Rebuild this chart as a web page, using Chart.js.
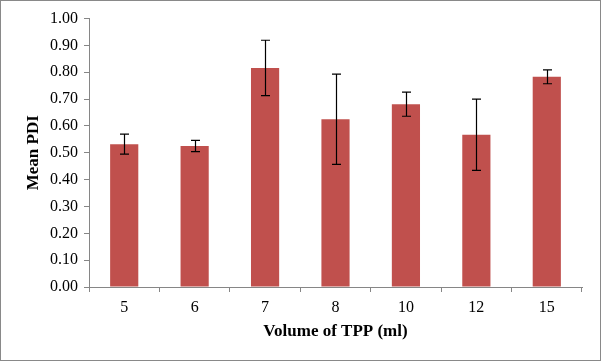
<!DOCTYPE html>
<html>
<head>
<meta charset="utf-8">
<script src="https://cdn.jsdelivr.net/npm/chart.js@4"></script>
<style>
  html, body { margin: 0; padding: 0; background: #fff; }
  #wrap { position: absolute; left: 0; top: 0; width: 601px; height: 361px;
          box-sizing: border-box; border: 1px solid #898989; background: #fff; }
</style>
</head>
<body>
<div id="wrap"><canvas id="pdiChart"></canvas></div>
<script>
// volume of TPP (ml) vs mean PDI, with error bars
const categories = ["5", "6", "7", "8", "10", "12", "15"];
const meanPDI = [0.532, 0.525, 0.816, 0.625, 0.681, 0.567, 0.783];
const errPDI = [0.037, 0.021, 0.103, 0.168, 0.045, 0.133, 0.026];

const ctx = document.getElementById("pdiChart").getContext("2d");

// draws the error bars from the data, using the chart's own scales
const errorBars = {
  id: "errorBars",
  afterDatasetsDraw(chart) {
    const c = chart.ctx;
    const x = chart.scales.x;
    const y = chart.scales.y;
    c.save();
    c.strokeStyle = "#000";
    c.lineWidth = 1.2;
    meanPDI.forEach((v, i) => {
      const px = Math.round(x.getPixelForValue(i)) + 0.5;
      const top = y.getPixelForValue(v + errPDI[i]);
      const bot = y.getPixelForValue(v - errPDI[i]);
      c.beginPath();
      c.moveTo(px, top); c.lineTo(px, bot);
      c.moveTo(px - 4.5, top); c.lineTo(px + 4.5, top);
      c.moveTo(px - 4.5, bot); c.lineTo(px + 4.5, bot);
      c.stroke();
    });
    c.restore();
  }
};

new Chart(ctx, {
  type: "bar",
  data: {
    labels: categories,
    datasets: [{
      label: "Mean PDI",
      data: meanPDI,
      backgroundColor: "#C0504D",
      borderWidth: 0,
      categoryPercentage: 1,
      barPercentage: 0.4
    }]
  },
  options: {
    responsive: true,
    maintainAspectRatio: false,
    animation: false,
    layout: { padding: { left: 18, right: 18, top: 17.5, bottom: 14 } },
    plugins: { legend: { display: false }, tooltip: { enabled: false } },
    scales: {
      x: {
        grid: { display: true, drawOnChartArea: false, drawTicks: true, tickLength: 5, color: "#868686", offset: true },
        border: { display: true, color: "#868686" },
        ticks: { color: "#000", font: { family: "Liberation Serif", size: 16 }, padding: 6 },
        title: { display: true, text: "Volume of TPP (ml)", color: "#000",
                 font: { family: "Liberation Serif", size: 17, weight: "bold" } },
        afterFit(scale) { scale.height = 59; }
      },
      y: {
        min: 0,
        max: 1,
        grid: { display: true, drawOnChartArea: false, drawTicks: true, tickLength: 5, color: "#868686" },
        border: { display: true, color: "#868686" },
        ticks: { stepSize: 0.1, color: "#000", font: { family: "Liberation Serif", size: 16 }, padding: 6,
                 callback: v => v.toFixed(2) },
        title: { display: true, text: "Mean PDI", color: "#000",
                 font: { family: "Liberation Serif", size: 17, weight: "bold" } },
        afterFit(scale) { scale.width = 70; }
      }
    }
  },
  plugins: [errorBars]
});
</script>
</body>
</html>
